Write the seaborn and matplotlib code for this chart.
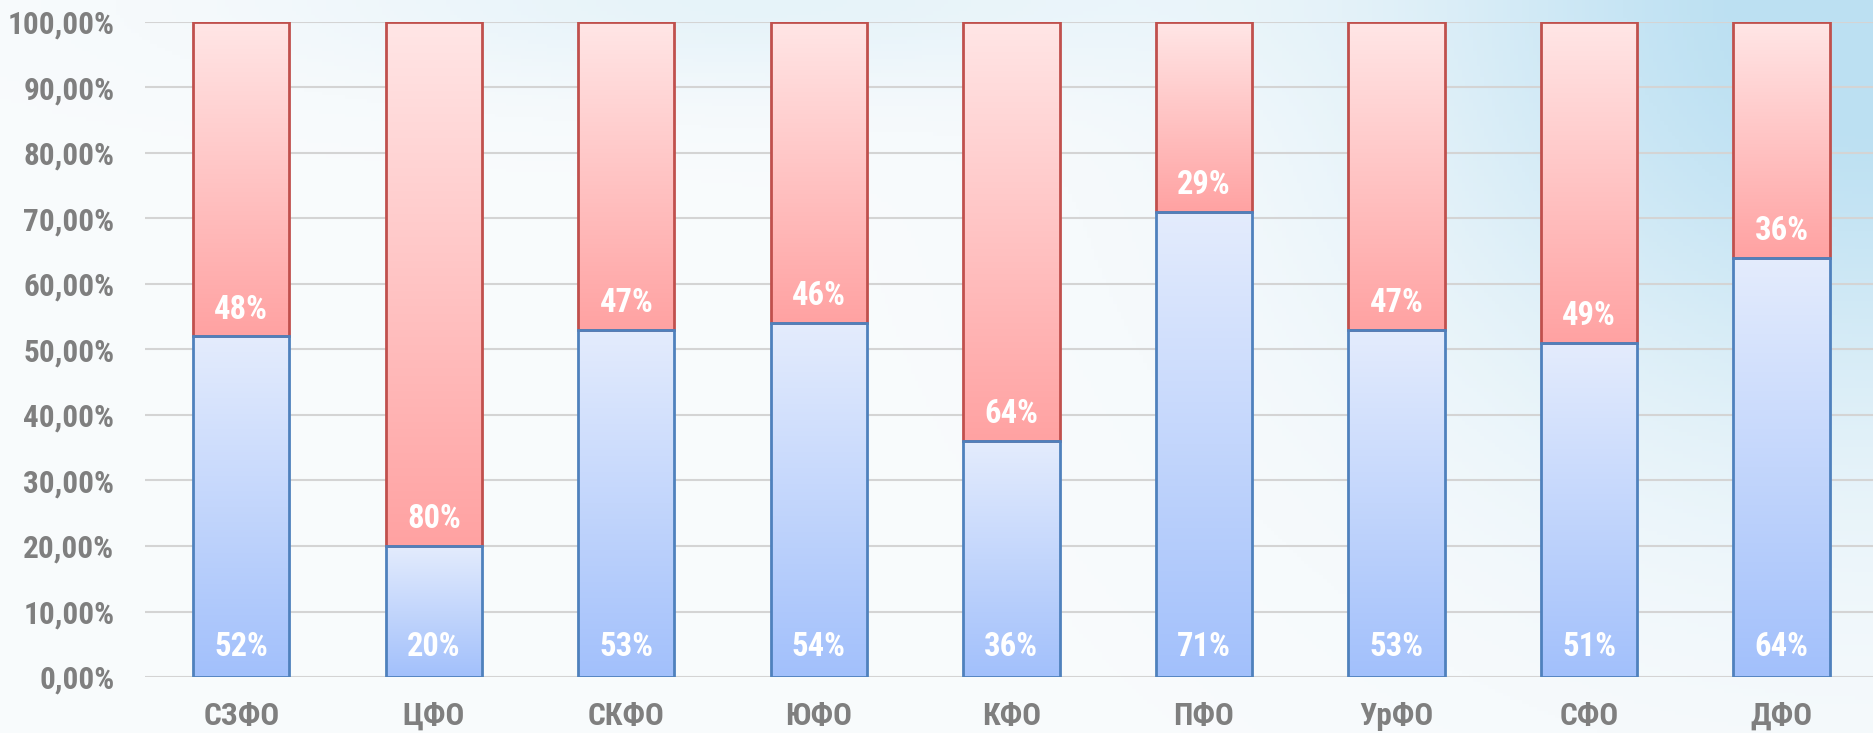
"""
Доля по федеральным округам: 100% столбцы с градиентной заливкой.
"""

import numpy as np
import pandas as pd
import matplotlib
matplotlib.use("Agg")
import matplotlib.pyplot as plt
from matplotlib import font_manager
from matplotlib.colors import LinearSegmentedColormap
from matplotlib.ticker import FuncFormatter
import seaborn as sns

# --- данные ---
regions = ["СЗФО", "ЦФО", "СКФО", "ЮФО", "КФО", "ПФО", "УрФО", "СФО", "ДФО"]
blue_share = [52, 20, 53, 54, 36, 71, 53, 51, 64]
red_share = [48, 80, 47, 46, 64, 29, 47, 49, 36]
y_ticks = [0, 10, 20, 30, 40, 50, 60, 70, 80, 90, 100]

df = pd.DataFrame({"region": regions, "blue": blue_share, "red": red_share})
df["total"] = df["blue"] + df["red"]

GRAY = "#7f7f7f"

# узкий шрифт, если найдётся
installed = {f.name for f in font_manager.fontManager.ttflist}
prefs = ["Liberation Sans Narrow", "Arial Narrow", "Roboto Condensed",
         "DejaVu Sans Condensed", "Open Sans Condensed", "Liberation Sans"]
narrow = next((f for f in prefs if f in installed), "DejaVu Sans")
FONT = [narrow, "DejaVu Sans"]

sns.set_theme(style="white")
plt.rcParams["font.family"] = FONT
plt.rcParams["font.weight"] = "bold"
FS = 22.5 if narrow in prefs[:4] else 19
FS_BAR = 23.5 if narrow in prefs[:4] else 20

fig = plt.figure(figsize=(18.74, 7.33), dpi=100)

# фон: светлый с голубым оттенком справа сверху
bg = fig.add_axes([0, 0, 1, 1], zorder=-10)
h, w = 200, 500
yy, xx = np.mgrid[0:1:h * 1j, 0:1:w * 1j]
wt = np.clip(1.1 * np.exp(-((1 - xx) ** 2 / 0.06 + yy ** 2 / 0.35))
             + 0.3 * np.exp(-((xx - 0.4) ** 2 / 0.06 + yy ** 2 / 0.015)), 0, 1)
white = np.array([0.975, 0.985, 0.99])
blue_bg = np.array([0.74, 0.88, 0.95])
img = white[None, None, :] * (1 - wt[..., None]) + blue_bg[None, None, :] * wt[..., None]
bg.imshow(img, extent=[0, 1, 0, 1], origin="upper", aspect="auto")
bg.axis("off")

ax = fig.add_axes([145 / 1874, 56 / 733, 1 - 145 / 1874 + 0.002, 655 / 733])
ax.patch.set_alpha(0)

sns.barplot(data=df, x="region", y="total", color="#ffb0b0", width=0.5, ax=ax,
            edgecolor="#c0504d", linewidth=2, saturation=1)
n = len(df)
red_patches = list(ax.patches)
sns.barplot(data=df, x="region", y="blue", color="#c0d4fb", width=0.5, ax=ax,
            edgecolor="#4f81bd", linewidth=2, saturation=1)
blue_patches = list(ax.patches)[n:]

# красный сегмент начинается от верха синего
for p, b, r in zip(red_patches, df["blue"], df["red"]):
    p.set_y(b)
    p.set_height(r)

red_cmap = LinearSegmentedColormap.from_list("red", ["#ffa2a2", "#ffe6e6"])
blue_cmap = LinearSegmentedColormap.from_list("blue", ["#a2c0fb", "#e4ecfd"])
grad = np.linspace(0, 1, 256).reshape(-1, 1)

for patches, cmap in [(red_patches, red_cmap), (blue_patches, blue_cmap)]:
    for p in patches:
        x0, y0 = p.get_x(), p.get_y()
        x1, y1 = x0 + p.get_width(), y0 + p.get_height()
        im = ax.imshow(grad, cmap=cmap, extent=[x0, x1, y0, y1], origin="lower",
                       aspect="auto", zorder=2)
        im.set_clip_path(p)
        p.set_facecolor("none")
        p.set_zorder(3)

# подписи
for i, row in df.iterrows():
    ax.text(i, 4.6, f"{row['blue']}%", ha="center", va="center", color="white",
            fontsize=FS_BAR, fontweight="bold", zorder=5)
    ax.text(i, row["blue"] + 4.1, f"{row['red']}%", ha="center", va="center",
            color="white", fontsize=FS_BAR, fontweight="bold", zorder=5)

ax.set_xlim(-0.5, n - 0.5)
ax.set_ylim(0, 100)
ax.set_yticks(y_ticks)
ax.yaxis.set_major_formatter(FuncFormatter(lambda v, _: f"{v:.2f}%".replace(".", ",")))
ax.grid(axis="y", color="#d4d4d4", linewidth=1.5, zorder=0)
ax.set_axisbelow(True)
ax.tick_params(axis="y", length=0, pad=22, labelsize=FS, labelcolor=GRAY)
ax.tick_params(axis="x", length=0, pad=17, labelsize=FS, labelcolor=GRAY)
for lbl in ax.get_xticklabels() + ax.get_yticklabels():
    lbl.set_fontweight("bold")
ax.set_xlabel("")
ax.set_ylabel("")
sns.despine(ax=ax, left=True, bottom=True)

fig.savefig("out.png", dpi=100)
